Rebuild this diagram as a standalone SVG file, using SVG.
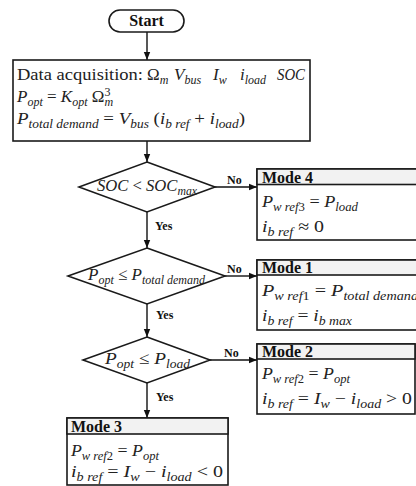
<svg xmlns="http://www.w3.org/2000/svg" width="416" height="486" viewBox="0 0 416 486">
  <defs>
    <marker id="arr" viewBox="0 0 10 10" refX="10" refY="5" markerWidth="8" markerHeight="8" markerUnits="userSpaceOnUse" orient="auto">
      <path d="M0,1 L10,5 L0,9 z" fill="#111"/>
    </marker>
    <style>
      .ln{stroke:#111;stroke-width:1.4;fill:none}
      .box{fill:#fff;stroke:#1a1a1a;stroke-width:1.6}
      .hd{fill:#f2f2f2;stroke:#1a1a1a;stroke-width:1.6}
      .t{font-family:"Liberation Serif",serif;font-size:17px;fill:#222}
      .m{font-style:italic}
      .r{font-style:normal}
      .s{font-size:12px}
      .b{font-weight:bold;font-size:16px;fill:#111;font-style:normal}
      .lbl{font-family:"Liberation Serif",serif;font-weight:bold;font-size:12px;fill:#111}
    </style>
  </defs>

  <!-- connectors -->
  <g id="connectors">
    <line class="ln" x1="147" y1="32" x2="147" y2="60" marker-end="url(#arr)"/>
    <line class="ln" x1="147" y1="141" x2="147" y2="162" marker-end="url(#arr)"/>
    <line class="ln" x1="215" y1="187" x2="257" y2="187" marker-end="url(#arr)"/>
    <line class="ln" x1="147" y1="212" x2="147" y2="248" marker-end="url(#arr)"/>
    <line class="ln" x1="225" y1="276" x2="257" y2="276" marker-end="url(#arr)"/>
    <line class="ln" x1="147" y1="304" x2="147" y2="337" marker-end="url(#arr)"/>
    <line class="ln" x1="210" y1="360" x2="257" y2="360" marker-end="url(#arr)"/>
    <line class="ln" x1="147" y1="383" x2="147" y2="418" marker-end="url(#arr)"/>
    <text class="lbl" x="227" y="184">No</text>
    <text class="lbl" x="155" y="230">Yes</text>
    <text class="lbl" x="227" y="273">No</text>
    <text class="lbl" x="156" y="319">Yes</text>
    <text class="lbl" x="224" y="357">No</text>
    <text class="lbl" x="156" y="401">Yes</text>
  </g>

  <!-- start terminal -->
  <g id="start">
    <rect class="box" x="109" y="10" width="75" height="22" rx="11"/>
    <text class="t b" x="146.5" y="26" text-anchor="middle">Start</text>
  </g>

  <!-- data acquisition block -->
  <g id="data">
    <rect class="box" x="13" y="60" width="297" height="81"/>
    <text class="t" x="17" y="80" textLength="126" lengthAdjust="spacingAndGlyphs">Data acquisition:</text>
    <text class="t" x="147" y="80">Ω<tspan class="m s" dy="3.5">m</tspan></text>
    <text class="t m" x="174" y="80">V<tspan class="s" dy="3.5">bus</tspan></text>
    <text class="t m" x="213" y="80">I<tspan class="s" dy="3.5">w</tspan></text>
    <text class="t m" x="240" y="80">i<tspan class="s" dy="3.5">load</tspan></text>
    <text class="t m" x="277" y="80" textLength="28" lengthAdjust="spacingAndGlyphs">SOC</text>
    <text class="t m" x="17" y="102">P<tspan class="s" dy="3.5">opt</tspan><tspan class="r" dy="-3.5"> = </tspan>K<tspan class="s" dy="3.5">opt</tspan><tspan class="r" dy="-3.5"> Ω</tspan><tspan class="s" dy="3.5">m</tspan><tspan class="r s" dx="-8.5" dy="-10">3</tspan></text>
    <text class="t m" x="17" y="124" textLength="228" lengthAdjust="spacingAndGlyphs">P<tspan class="s" dy="3.5">total demand</tspan><tspan class="r" dy="-3.5"> = </tspan>V<tspan class="s" dy="3.5">bus</tspan><tspan class="r" dy="-3.5"> (</tspan>i<tspan class="s" dy="3.5">b ref</tspan><tspan class="r" dy="-3.5"> + </tspan>i<tspan class="s" dy="3.5">load</tspan><tspan class="r" dy="-3.5">)</tspan></text>
  </g>

  <!-- decision: state of charge -->
  <g id="dec-soc">
    <polygon class="box" points="147,162 215,187 147,212 79,187"/>
    <text class="t m" x="97" y="191" textLength="100" lengthAdjust="spacingAndGlyphs">SOC<tspan class="r"> &lt; </tspan>SOC<tspan class="s" dy="3.5">max</tspan></text>
  </g>

  <!-- decision: optimal power vs total demand -->
  <g id="dec-demand">
    <polygon class="box" points="147,248 225,276 147,304 68,276"/>
    <text class="t m" x="88" y="280" textLength="117" lengthAdjust="spacingAndGlyphs">P<tspan class="s" dy="3.5">opt</tspan><tspan class="r" dy="-3.5"> ≤ </tspan>P<tspan class="s" dy="3.5">total demand</tspan></text>
  </g>

  <!-- decision: optimal power vs load -->
  <g id="dec-load">
    <polygon class="box" points="147,337 210,360 147,383 83,360"/>
    <text class="t m" x="105" y="364" textLength="85" lengthAdjust="spacingAndGlyphs">P<tspan class="s" dy="3.5">opt</tspan><tspan class="r" dy="-3.5"> ≤ </tspan>P<tspan class="s" dy="3.5">load</tspan></text>
  </g>

  <!-- mode 4 -->
  <g id="mode4">
    <rect class="box" x="257" y="169" width="170" height="71"/>
    <rect class="hd" x="257" y="169" width="170" height="15.5"/>
    <text class="t b" x="262" y="182.5">Mode 4</text>
    <text class="t m" x="262" y="207" textLength="96" lengthAdjust="spacingAndGlyphs">P<tspan class="s" dy="3.5">w ref<tspan class="r">3</tspan></tspan><tspan class="r" dy="-3.5"> = </tspan>P<tspan class="s" dy="3.5">load</tspan></text>
    <text class="t m" x="262" y="232" textLength="62" lengthAdjust="spacingAndGlyphs">i<tspan class="s" dy="3.5">b ref</tspan><tspan class="r" dy="-3.5"> ≈ 0</tspan></text>
  </g>

  <!-- mode 1 -->
  <g id="mode1">
    <rect class="box" x="257" y="260" width="170" height="70"/>
    <rect class="hd" x="257" y="260" width="170" height="15"/>
    <text class="t b" x="262" y="273">Mode 1</text>
    <text class="t m" x="262" y="296" textLength="156" lengthAdjust="spacingAndGlyphs">P<tspan class="s" dy="3.5">w ref<tspan class="r">1</tspan></tspan><tspan class="r" dy="-3.5"> = </tspan>P<tspan class="s" dy="3.5">total demand</tspan></text>
    <text class="t m" x="262" y="321" textLength="90" lengthAdjust="spacingAndGlyphs">i<tspan class="s" dy="3.5">b ref</tspan><tspan class="r" dy="-3.5"> = </tspan>i<tspan class="s" dy="3.5">b max</tspan></text>
  </g>

  <!-- mode 2 -->
  <g id="mode2">
    <rect class="box" x="257" y="344" width="158" height="70"/>
    <rect class="hd" x="257" y="344" width="158" height="15"/>
    <text class="t b" x="262" y="357">Mode 2</text>
    <text class="t m" x="262" y="379" textLength="88" lengthAdjust="spacingAndGlyphs">P<tspan class="s" dy="3.5">w ref<tspan class="r">2</tspan></tspan><tspan class="r" dy="-3.5"> = </tspan>P<tspan class="s" dy="3.5">opt</tspan></text>
    <text class="t m" x="262" y="404" textLength="150" lengthAdjust="spacingAndGlyphs">i<tspan class="s" dy="3.5">b ref</tspan><tspan class="r" dy="-3.5"> = </tspan>I<tspan class="s" dy="3.5">w</tspan><tspan class="r" dy="-3.5"> − </tspan>i<tspan class="s" dy="3.5">load</tspan><tspan class="r" dy="-3.5"> &gt; 0</tspan></text>
  </g>

  <!-- mode 3 -->
  <g id="mode3">
    <rect class="box" x="67" y="418" width="161" height="67"/>
    <rect class="hd" x="67" y="418" width="161" height="16"/>
    <text class="t b" x="71" y="431.5">Mode 3</text>
    <text class="t m" x="71" y="456" textLength="88" lengthAdjust="spacingAndGlyphs">P<tspan class="s" dy="3.5">w ref<tspan class="r">2</tspan></tspan><tspan class="r" dy="-3.5"> = </tspan>P<tspan class="s" dy="3.5">opt</tspan></text>
    <text class="t m" x="71" y="477" textLength="152" lengthAdjust="spacingAndGlyphs">i<tspan class="s" dy="3.5">b ref</tspan><tspan class="r" dy="-3.5"> = </tspan>I<tspan class="s" dy="3.5">w</tspan><tspan class="r" dy="-3.5"> − </tspan>i<tspan class="s" dy="3.5">load</tspan><tspan class="r" dy="-3.5"> &lt; 0</tspan></text>
  </g>
</svg>
